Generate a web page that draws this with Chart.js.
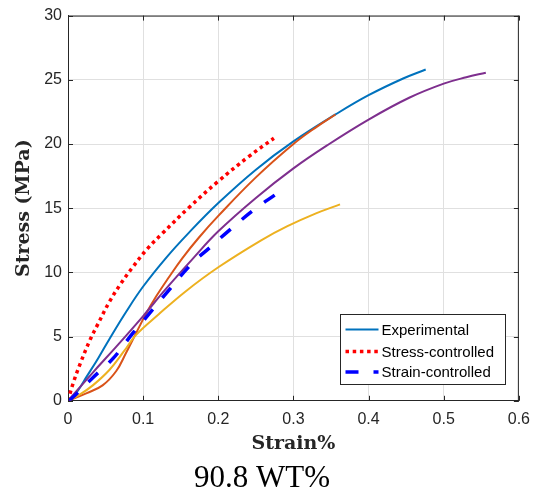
<!DOCTYPE html>
<html>
<head>
<meta charset="utf-8">
<script src="https://cdn.jsdelivr.net/npm/chart.js@4.4.1/dist/chart.umd.min.js"></script>
<style>
  body { margin: 0; background: #fff; }
  #wrap { width: 539px; height: 499px; }
</style>
</head>
<body>
<div id="wrap"><canvas id="stressChart" width="539" height="499"></canvas></div>
<script>
// tick labels
const xTicks = [0, 0.1, 0.2, 0.3, 0.4, 0.5, 0.6];
const yTicks = [0, 5, 10, 15, 20, 25, 30];

// curves (strain %, stress MPa)
const expStrain = [0, 0.012, 0.025, 0.04, 0.055, 0.077, 0.1, 0.13, 0.161, 0.2, 0.25, 0.3, 0.356, 0.4, 0.446, 0.476];
const expStress = [0, 0.7, 1.9, 3.3, 4.8, 6.9, 8.9, 11.1, 13.1, 15.4, 18.0, 20.2, 22.3, 23.8, 25.1, 25.8];

const stressCtrlStrain = [0, 0.007, 0.017, 0.029, 0.04, 0.055, 0.07, 0.086, 0.105, 0.125, 0.16, 0.2, 0.24, 0.274];
const stressCtrlStress = [0, 1.4, 3.0, 4.7, 6.0, 7.7, 9.1, 10.4, 11.8, 13.0, 15.0, 17.1, 19.0, 20.45];

const strainCtrlStrain = [0, 0.005, 0.033, 0.06, 0.086, 0.104, 0.134, 0.165, 0.189, 0.213, 0.248, 0.277];
const strainCtrlStress = [0, 0.2, 1.8, 3.3, 5.25, 6.5, 8.6, 10.7, 11.95, 13.2, 14.9, 16.1];

const exp2Strain = [0, 0.025, 0.046, 0.064, 0.077, 0.09, 0.104, 0.117, 0.134, 0.152, 0.174, 0.2, 0.25, 0.3, 0.33, 0.356];
const exp2Stress = [0, 0.6, 1.2, 2.3, 3.7, 5.2, 6.8, 8.1, 9.6, 11.1, 12.7, 14.4, 17.4, 20.0, 21.3, 22.3];

const exp3Strain = [0, 0.016, 0.033, 0.055, 0.075, 0.09, 0.12, 0.156, 0.2, 0.257, 0.292, 0.33, 0.362];
const exp3Stress = [0, 0.5, 1.2, 2.4, 3.9, 5.1, 6.7, 8.5, 10.4, 12.5, 13.6, 14.6, 15.3];

const exp4Strain = [0, 0.033, 0.064, 0.1, 0.13, 0.165, 0.2, 0.25, 0.3, 0.345, 0.4, 0.454, 0.5, 0.53, 0.556];
const exp4Stress = [0, 2.2, 4.2, 6.6, 8.7, 11.0, 13.2, 15.8, 18.1, 19.9, 21.9, 23.6, 24.7, 25.2, 25.55];

const legendLabels = ['Experimental', 'Stress-controlled', 'Strain-controlled'];

const toPoints = (xs, ys) => xs.map((x, i) => ({ x: x, y: ys[i] }));

const curve = (label, xs, ys, color, width, dash, order) => ({
    label: label,
    data: toPoints(xs, ys),
    borderColor: color,
    backgroundColor: color,
    borderWidth: width,
    borderDash: dash,
    pointRadius: 0,
    tension: 0.4,
    fill: false,
    order: order
});

// box, inward ticks on all four sides
const framePlugin = {
    id: 'frame',
    afterDatasetsDraw(chart) {
        const { ctx, chartArea: a, scales } = chart;
        ctx.save();
        ctx.strokeStyle = '#262626';
        ctx.lineWidth = 1;
        ctx.beginPath();
        ctx.moveTo(a.left, a.top + 0.5);
        ctx.lineTo(a.right, a.top + 0.5);
        ctx.moveTo(a.right - 0.5, a.top);
        ctx.lineTo(a.right - 0.5, a.bottom);
        xTicks.forEach(v => {
            const px = Math.round(scales.x.getPixelForValue(v)) + 0.5;
            ctx.moveTo(px, a.bottom); ctx.lineTo(px, a.bottom - 5);
            ctx.moveTo(px, a.top); ctx.lineTo(px, a.top + 5);
        });
        yTicks.forEach(v => {
            const py = Math.round(scales.y.getPixelForValue(v)) + 0.5;
            ctx.moveTo(a.left, py); ctx.lineTo(a.left + 5, py);
            ctx.moveTo(a.right, py); ctx.lineTo(a.right - 5, py);
        });
        ctx.stroke();
        ctx.restore();
    }
};

// legend box in the lower right corner of the axes
const legendBoxPlugin = {
    id: 'legendBox',
    afterDraw(chart) {
        const { ctx, chartArea: a } = chart;
        const w = 165, h = 70;
        const left = Math.round(a.right - 14 - w) + 0.5;
        const top = Math.round(a.bottom - 17 - h) + 0.5;
        ctx.save();
        ctx.fillStyle = '#fff';
        ctx.fillRect(left, top, w, h);
        ctx.strokeStyle = '#262626';
        ctx.lineWidth = 1;
        ctx.setLineDash([]);
        ctx.strokeRect(left, top, w, h);
        ctx.font = '15px "Liberation Sans", Arial, sans-serif';
        ctx.textBaseline = 'middle';
        ctx.fillStyle = '#000';
        const rows = [15, 37, 57.5];
        legendLabels.forEach((lbl, i) => {
            const ds = chart.data.datasets.find(d => d.label === lbl);
            const y = top + rows[i];
            ctx.strokeStyle = ds.borderColor;
            ctx.lineWidth = ds.borderWidth;
            ctx.setLineDash(ds.borderDash || []);
            ctx.beginPath();
            ctx.moveTo(left + 5, y);
            ctx.lineTo(left + 38, y);
            ctx.stroke();
            ctx.setLineDash([]);
            ctx.fillText(lbl, left + 41, y + 1);
        });
        ctx.restore();
    }
};

const tickFont = { family: '"Liberation Sans", Arial, sans-serif', size: 16 };
const axisTitleFont = { family: '"DejaVu Serif", serif', size: 19, weight: 'bold' };

new Chart(document.getElementById('stressChart').getContext('2d'), {
    type: 'line',
    data: {
        datasets: [
            curve('Experimental', expStrain, expStress, '#0072BD', 2, [], 6),
            curve('Experimental 2', exp2Strain, exp2Stress, '#D95319', 2, [], 5),
            curve('Experimental 3', exp3Strain, exp3Stress, '#EDB120', 2, [], 4),
            curve('Experimental 4', exp4Strain, exp4Stress, '#7E2F8E', 2, [], 3),
            curve('Stress-controlled', stressCtrlStrain, stressCtrlStress, '#FF0000', 3.5, [3.5, 3.7], 2),
            curve('Strain-controlled', strainCtrlStrain, strainCtrlStress, '#0000FF', 3.5, [13, 15], 1)
        ]
    },
    options: {
        responsive: false,
        animation: false,
        layout: { padding: { left: 0, right: 15, top: 13, bottom: 0 } },
        plugins: {
            legend: { display: false },
            tooltip: { enabled: false },
            title: {
                display: true,
                text: '90.8 WT%',
                position: 'bottom',
                color: '#000',
                font: { family: '"Liberation Serif", "Times New Roman", serif', size: 31, weight: 'normal' },
                padding: { top: 2, bottom: 2 }
            }
        },
        scales: {
            x: {
                type: 'linear',
                min: 0,
                max: 0.6,
                afterBuildTicks: s => { s.ticks = xTicks.map(v => ({ value: v })); },
                afterFit: s => { s.height = 57; },
                ticks: { color: '#262626', font: tickFont, padding: 9, maxRotation: 0, callback: v => String(v) },
                grid: { color: '#e0e0e0', drawTicks: false },
                border: { color: '#262626' },
                title: {
                    display: true,
                    text: 'Strain%',
                    color: '#262626',
                    font: axisTitleFont,
                    padding: { top: 0, bottom: 2 }
                }
            },
            y: {
                type: 'linear',
                min: 0,
                max: 30,
                afterBuildTicks: s => { s.ticks = yTicks.map(v => ({ value: v })); },
                afterFit: s => { s.width = 68; },
                ticks: { color: '#262626', font: tickFont, padding: 6, callback: v => String(v) },
                grid: { color: '#e0e0e0', drawTicks: false },
                border: { color: '#262626' },
                title: {
                    display: true,
                    text: 'Stress (MPa)',
                    color: '#262626',
                    font: axisTitleFont,
                    padding: { top: 13, bottom: 0 }
                }
            }
        }
    },
    plugins: [framePlugin, legendBoxPlugin]
});
</script>
</body>
</html>
